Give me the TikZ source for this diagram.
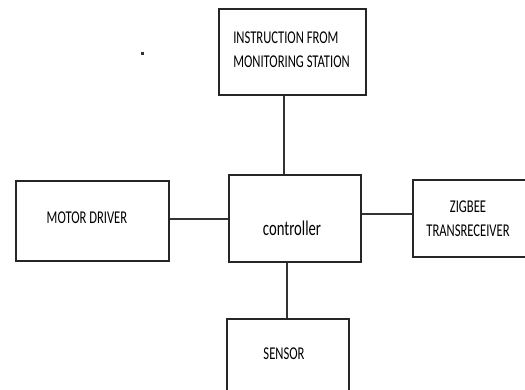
\documentclass[tikz,border=0pt]{standalone}
\usepackage{fontspec}
\setmainfont{Carlito}[FakeStretch=0.7]
\begin{document}
\begin{tikzpicture}[x=1bp,y=-1bp,
  blk/.style={draw=black!85, line width=1.6bp, rectangle, inner sep=0pt},
  link/.style={draw=black!80, line width=1.3bp},
  lbl/.style={inner sep=0pt, font=\fontsize{18bp}{24bp}\selectfont, text=black}]
  \useasboundingbox (0,0) rectangle (525,389);
  \clip (0,0) rectangle (525,389);
  % blocks
  \node[blk, minimum width=147bp, minimum height=86bp] (instr) at (292.5,52) {};
  \node[blk, minimum width=132bp, minimum height=87bp] (ctrl) at (295,218.5) {};
  \node[blk, minimum width=153bp, minimum height=80bp] (motor) at (92.5,221) {};
  \node[blk, minimum width=120bp, minimum height=77bp] (zig) at (473,218.5) {};
  \node[blk, minimum width=122bp, minimum height=80bp] (sens) at (288,359) {};
  % labels
  \node[lbl, align=left] (tinstr) at (291.5,50) {INSTRUCTION FROM\\MONITORING STATION};
  \node[lbl, font=\fontsize{21bp}{24bp}\selectfont] (tctrl) at (292,228) {controller};
  \node[lbl] (tmotor) at (87,218) {MOTOR DRIVER};
  \node[lbl, align=center] (tzig) at (468,219) {ZIGBEE\\TRANSRECEIVER};
  \node[lbl] (tsens) at (284,354) {SENSOR};
  % stray mark
  \fill[black!80] (141,52) rectangle (143.5,54.5);
  % connectors
  \draw[link] (instr.south -| 284,0) -- (ctrl.north -| 284,0);
  \draw[link] (motor.east |- 0,219) -- (ctrl.west |- 0,219);
  \draw[link] (ctrl.east |- 0,214) -- (zig.west |- 0,214);
  \draw[link] (ctrl.south -| 287,0) -- (sens.north -| 287,0);
\end{tikzpicture}
\end{document}
